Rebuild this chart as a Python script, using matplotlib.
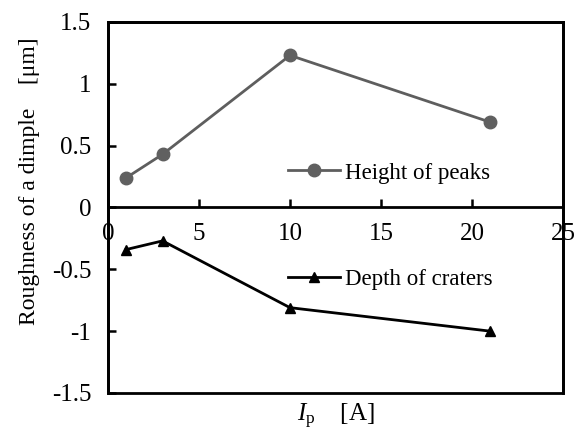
import matplotlib
matplotlib.use("Agg")
import matplotlib.pyplot as plt
from matplotlib.patches import Rectangle

plt.rcParams['font.family'] = ['Liberation Serif', 'DejaVu Serif']
plt.rcParams['mathtext.fontset'] = 'custom'
plt.rcParams['mathtext.rm'] = 'Liberation Serif'
plt.rcParams['mathtext.it'] = 'Liberation Serif:italic'

# data
ip = [1, 3, 10, 21]
height_peaks = [0.24, 0.43, 1.23, 0.69]
depth_craters = [-0.34, -0.27, -0.81, -1.0]

x_ticks = [0, 5, 10, 15, 20, 25]
y_ticks = [-1.5, -1, -0.5, 0, 0.5, 1, 1.5]
y_ticklabels = ['-1.5', '-1', '-0.5', '0', '0.5', '1', '1.5']

fig = plt.figure(figsize=(5.79, 4.37), dpi=100)
ax = fig.add_axes([0.1865, 0.1007, 0.7859, 0.849])

gray = '#5e5e5e'
l1, = ax.plot(ip, height_peaks, color=gray, lw=2, marker='o', ms=9,
              markerfacecolor='#606060', markeredgecolor='#606060')
l2, = ax.plot(ip, depth_craters, color='black', lw=2, marker='^', ms=7)

ax.set_xlim(0, 25)
ax.set_ylim(-1.5, 1.5)
ax.set_xticks(x_ticks)
ax.set_yticks(y_ticks)
ax.set_yticklabels(y_ticklabels)

# x axis line at y = 0, frame drawn round the plot area
ax.spines['bottom'].set_position(('data', 0))
for s in ax.spines.values():
    s.set_linewidth(2)
ax.add_patch(Rectangle((0, 0), 1, 1, transform=ax.transAxes, fill=False,
                       edgecolor='black', lw=2, clip_on=False, zorder=5))

ax.tick_params(axis='x', direction='in', length=6, width=1.8, pad=11, labelsize=18)
ax.tick_params(axis='y', direction='in', length=6, width=1.8, pad=12, labelsize=18)

ax.set_ylabel('Roughness of a dimple    [μm]', fontsize=17)
ax.yaxis.set_label_coords(-0.15, 0.571)
ax.set_xlabel(r'$I_{\mathrm{p}}$    [A]', fontsize=18)
ax.xaxis.set_label_coords(0.5, -0.025)

leg1 = ax.legend([l1], ['Height of peaks'], loc='center left',
                 bbox_to_anchor=(0.395, 0.593), frameon=False, fontsize=16.5,
                 borderpad=0, borderaxespad=0, handlelength=2.3, handletextpad=0.2)
ax.add_artist(leg1)
ax.legend([l2], ['Depth of craters'], loc='center left',
          bbox_to_anchor=(0.395, 0.305), frameon=False, fontsize=16.5,
          borderpad=0, borderaxespad=0, handlelength=2.3, handletextpad=0.2)

fig.savefig('out.png', dpi=100)
